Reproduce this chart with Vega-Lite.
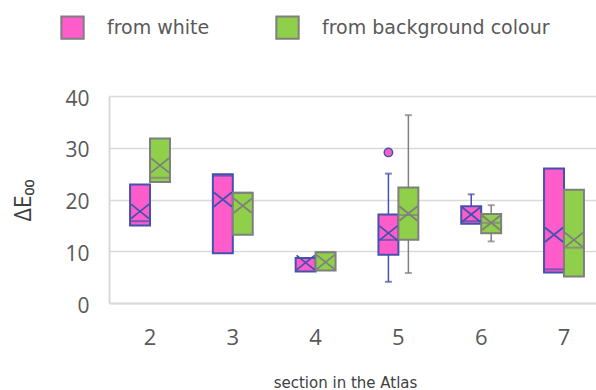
{
  "$schema": "https://vega.github.io/schema/vega-lite/v6.json",
  "width": 487,
  "height": 207,
  "autosize": {"type": "none"},
  "padding": {"left": 109, "top": 96, "right": 0, "bottom": 87},
  "config": {"view": {"stroke": null}, "font": "Open Sans"},
  "data": {"values": [
    {"section": "2", "series": "from white", "min": 15, "q1": 15, "median": 15.8, "q3": 22.9, "max": 22.9, "mean": 17.7},
    {"section": "2", "series": "from background colour", "min": 23.4, "q1": 23.4, "median": 24.2, "q3": 31.8, "max": 31.8, "mean": 26.6},
    {"section": "3", "series": "from white", "min": 9.6, "q1": 9.6, "median": 24.6, "q3": 24.9, "max": 24.9, "mean": 20.0},
    {"section": "3", "series": "from background colour", "min": 13.2, "q1": 13.2, "median": 21.3, "q3": 21.3, "max": 21.3, "mean": 18.8},
    {"section": "4", "series": "from white", "min": 6.1, "q1": 6.1, "median": 8.7, "q3": 8.7, "max": 8.7, "mean": 7.8},
    {"section": "4", "series": "from background colour", "min": 6.3, "q1": 6.3, "median": 9.8, "q3": 9.8, "max": 9.8, "mean": 7.9},
    {"section": "5", "series": "from white", "min": 4.1, "q1": 9.3, "median": 12.2, "q3": 17.1, "max": 25.0, "mean": 13.5},
    {"section": "5", "series": "from background colour", "min": 5.8, "q1": 12.2, "median": 17.0, "q3": 22.3, "max": 36.3, "mean": 17.3},
    {"section": "6", "series": "from white", "min": 15.3, "q1": 15.3, "median": 15.8, "q3": 18.7, "max": 21.0, "mean": 17.1},
    {"section": "6", "series": "from background colour", "min": 11.9, "q1": 13.5, "median": 15.5, "q3": 17.2, "max": 18.9, "mean": 15.5},
    {"section": "7", "series": "from white", "min": 5.9, "q1": 5.9, "median": 6.5, "q3": 26.0, "max": 26.0, "mean": 13.2},
    {"section": "7", "series": "from background colour", "min": 5.1, "q1": 5.1, "median": 10.7, "q3": 21.9, "max": 21.9, "mean": 12.2}
  ]},
  "encoding": {
    "x": {
      "field": "section", "type": "nominal",
      "scale": {"domain": ["2", "3", "4", "5", "6", "7"], "paddingInner": 0.518, "paddingOuter": 0.2, "align": 0.636},
      "title": "section in the Atlas",
      "axis": {
        "domain": true, "domainColor": "#d9d9d9", "domainWidth": 2, "ticks": false,
        "labelAngle": 0, "labelFontSize": 22, "labelColor": "#595959", "labelPadding": 24,
        "titleFont": "DejaVu Sans", "titleFontSize": 15, "titleFontWeight": "normal", "titleColor": "#404040",
        "titleX": 236, "titleY": 84, "titleAlign": "center", "titleBaseline": "alphabetic"
      }
    },
    "xOffset": {"field": "series", "type": "nominal", "scale": {"domain": ["from white", "from background colour"], "paddingInner": 0, "paddingOuter": 0}}
  },
  "layer": [
    {
      "mark": {"type": "rule", "strokeWidth": 1.5},
      "encoding": {
        "y": {
          "field": "min", "type": "quantitative",
          "scale": {"domain": [0, 40], "nice": false},
          "title": "ΔE₀₀",
          "axis": {
            "values": [0, 10, 20, 30, 40], "grid": true, "gridColor": "#d9d9d9", "gridWidth": 1.5,
            "domain": true, "domainColor": "#d9d9d9", "domainWidth": 2, "ticks": false,
            "labelFontSize": 21, "labelColor": "#595959", "labelPadding": 20, "labelOffset": 3,
            "titleFont": "Open Sans", "titleFontSize": 23, "titleFontWeight": "normal", "titleColor": "#404040",
            "titleX": -86, "titleY": 104, "titleAlign": "center", "titleBaseline": "middle", "titleAngle": -90
          }
        },
        "y2": {"field": "max"},
        "stroke": {"condition": {"test": "datum.series === 'from white'", "value": "#4352ad"}, "value": "#7f7f7f"}
      }
    },
    {
      "transform": [{"filter": "datum.max > datum.q3"}],
      "mark": {"type": "tick", "size": 7, "thickness": 2},
      "encoding": {
        "y": {"field": "max", "type": "quantitative"},
        "fill": {"condition": {"test": "datum.series === 'from white'", "value": "#4352ad"}, "value": "#7f7f7f"}
      }
    },
    {
      "transform": [{"filter": "datum.min < datum.q1"}],
      "mark": {"type": "tick", "size": 7, "thickness": 2},
      "encoding": {
        "y": {"field": "min", "type": "quantitative"},
        "fill": {"condition": {"test": "datum.series === 'from white'", "value": "#4352ad"}, "value": "#7f7f7f"}
      }
    },
    {
      "mark": {"type": "bar", "strokeWidth": 2},
      "encoding": {
        "y": {"field": "q1", "type": "quantitative"},
        "y2": {"field": "q3"},
        "color": {
          "field": "series", "type": "nominal",
          "scale": {"domain": ["from white", "from background colour"], "range": ["#ff5ccb", "#8fcf4a"]},
          "legend": {
            "title": null, "orient": "none", "direction": "horizontal", "columns": 2,
            "legendX": -49, "legendY": -81, "symbolType": "square", "symbolSize": 500, "symbolStrokeWidth": 2,
            "labelFont": "DejaVu Sans", "labelFontSize": 19, "labelColor": "#595959", "labelOffset": 22,
            "labelLimit": 400, "columnPadding": 62,
            "encode": {"symbols": {"update": {"stroke": {"signal": "datum.value === 'from white' ? '#4352ad' : '#7f7f7f'"}}}}
          }
        },
        "stroke": {"condition": {"test": "datum.series === 'from white'", "value": "#4352ad"}, "value": "#7f7f7f"}
      }
    },
    {
      "mark": {"type": "tick", "thickness": 2, "size": 19},
      "encoding": {
        "y": {"field": "median", "type": "quantitative"},
        "fill": {"condition": {"test": "datum.series === 'from white'", "value": "#4352ad"}, "value": "#7f7f7f"}
      }
    },
    {
      "mark": {"type": "point", "shape": "M-1,-0.8L1,0.8M-1,0.8L1,-0.8", "filled": false, "size": 330, "strokeWidth": 1.8, "opacity": 1},
      "encoding": {
        "y": {"field": "mean", "type": "quantitative"},
        "stroke": {"condition": {"test": "datum.series === 'from white'", "value": "#4352ad"}, "value": "#7f7f7f"}
      }
    },
    {
      "data": {"values": [{"section": "5", "series": "from white", "value": 29.1}]},
      "mark": {"type": "point", "shape": "circle", "filled": true, "size": 70, "fill": "#ff5ccb", "stroke": "#4352ad", "strokeWidth": 1.5, "opacity": 1},
      "encoding": {
        "y": {"field": "value", "type": "quantitative"}
      }
    }
  ]
}
